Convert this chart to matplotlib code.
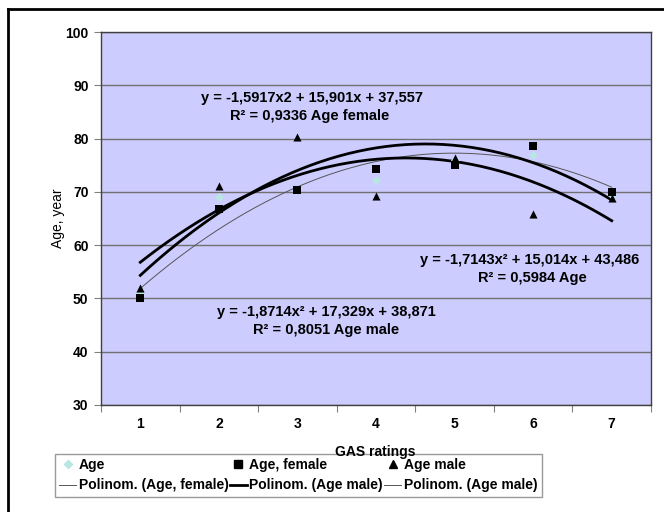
import numpy as np
import matplotlib
matplotlib.use("Agg")
import matplotlib.pyplot as plt
from matplotlib.lines import Line2D

plt.rcParams['font.family'] = ['Liberation Sans', 'DejaVu Sans']

# ---- data ----
gas = [1, 2, 3, 4, 5, 6, 7]
age = [51.0, 69.1, 70.5, 72.2, 76.0, 77.0, 69.5]
age_female = [50.0, 66.8, 70.4, 74.2, 75.0, 78.6, 70.0]
age_male = [51.9, 71.1, 80.3, 69.3, 76.3, 65.8, 68.9]

# trend coefficients (a, b, c) as printed on the chart
coef_female = [-1.5917, 15.901, 37.557]
coef_male = [-1.8714, 17.329, 38.871]
coef_age = [-1.7143, 15.014, 43.486]

eq_female = ["y = -1,5917x2 + 15,901x + 37,557", "R² = 0,9336 Age female"]
eq_male = ["y = -1,8714x² + 17,329x + 38,871", "R² = 0,8051 Age male"]
eq_age = ["y = -1,7143x² + 15,014x + 43,486", "R² = 0,5984 Age"]

yticks = [30, 40, 50, 60, 70, 80, 90, 100]

W, H = 664, 512
fig = plt.figure(figsize=(W / 100, H / 100), dpi=100)
fig.patch.set_facecolor('white')
ax = fig.add_axes([101 / W, 1 - 405 / H, 550 / W, 373 / H])
ax.set_facecolor('#ccccff')

ax.set_xlim(0.5, 7.5)
ax.set_ylim(30, 100)
ax.set_yticks(yticks)
ax.yaxis.grid(True, color='#707070', lw=1)
ax.set_axisbelow(True)

# category axis: tick marks at boundaries, labels at centres
ax.set_xticks(np.arange(0.5, 8.0, 1.0))
ax.set_xticklabels([])
ax.set_xticks(gas, minor=True)
ax.set_xticklabels([str(g) for g in gas], minor=True)
ax.tick_params(axis='x', which='minor', length=0, pad=9)
ax.tick_params(axis='x', which='major', length=5, color='#808080', direction='out')
ax.tick_params(axis='y', length=5, color='#808080', direction='out', pad=4)
for lab in ax.get_xticklabels(minor=True) + ax.get_yticklabels():
    lab.set_fontweight('bold')
    lab.set_fontsize(10)
for s in ax.spines.values():
    s.set_color('#404040')
    s.set_linewidth(1)

xs = np.linspace(1, 7, 200)
def poly(c, x):
    return c[0] * x ** 2 + c[1] * x + c[2]

ax.plot(xs, poly(coef_female, xs), color='#555555', lw=0.7, zorder=3)
ax.plot(xs, poly(coef_male, xs), color='black', lw=2, zorder=3)
ax.plot(xs, poly(coef_age, xs), color='black', lw=2, zorder=3)

ax.scatter(gas, age, marker='D', s=22, color='#b8e6e2', zorder=4, linewidths=0)
ax.scatter(gas, age_female, marker='s', s=34, color='black', zorder=5, linewidths=0)
ax.scatter(gas, age_male, marker='^', s=34, color='black', zorder=5, linewidths=0)

tkw = dict(fontsize=10.5, fontweight='bold', ha='center', va='center')
def place(txt, cx, cy):
    ax.text(cx, cy, txt, transform=fig.transFigure, **tkw)

place(eq_female[0], 312 / W, 1 - 98 / H)
place(eq_female[1], 310 / W, 1 - 116 / H)
place(eq_male[0], 326 / W, 1 - 312 / H)
place(eq_male[1], 326 / W, 1 - 330 / H)
place(eq_age[0], 530 / W, 1 - 260 / H)
place(eq_age[1], 532 / W, 1 - 278 / H)

fig.text(58 / W, 1 - 218 / H, "Age, year", rotation=90, fontsize=10,
         ha='center', va='center')

# legend
handles = [
    Line2D([], [], ls='none', marker='D', ms=5, color='#b8e6e2', mec='none'),
    Line2D([], [], color='#555555', lw=0.7),
    Line2D([], [], ls='none', marker='s', ms=6, color='black'),
    Line2D([], [], color='black', lw=2),
    Line2D([], [], ls='none', marker='^', ms=6, color='black'),
    Line2D([], [], color='#555555', lw=0.7),
]
labels = ["Age", "Polinom. (Age, female)", "Age, female",
          "Polinom. (Age male)", "Age male", "Polinom. (Age male)"]
leg = fig.legend(handles, labels, ncol=3, loc='upper left',
                 bbox_to_anchor=(55 / W, 1 - 454 / H),
                 prop={'weight': 'bold', 'size': 10},
                 frameon=True, fancybox=False, edgecolor='#808080',
                 borderpad=0.3, handlelength=1.2, handletextpad=0.2,
                 columnspacing=0.1, labelspacing=0.45, borderaxespad=0)
leg.get_frame().set_linewidth(1)

fig.text(375 / W, 1 - 452 / H, "GAS ratings", fontsize=10, fontweight='bold',
         ha='center', va='center', zorder=10)

# outer chart border
fig.add_artist(Line2D([8 / W, 8 / W], [0, 1 - 9 / H], color='black', lw=2,
                      transform=fig.transFigure))
fig.add_artist(Line2D([8 / W, 1], [1 - 9 / H, 1 - 9 / H], color='black', lw=2,
                      transform=fig.transFigure))

fig.savefig("out.png", dpi=100)
